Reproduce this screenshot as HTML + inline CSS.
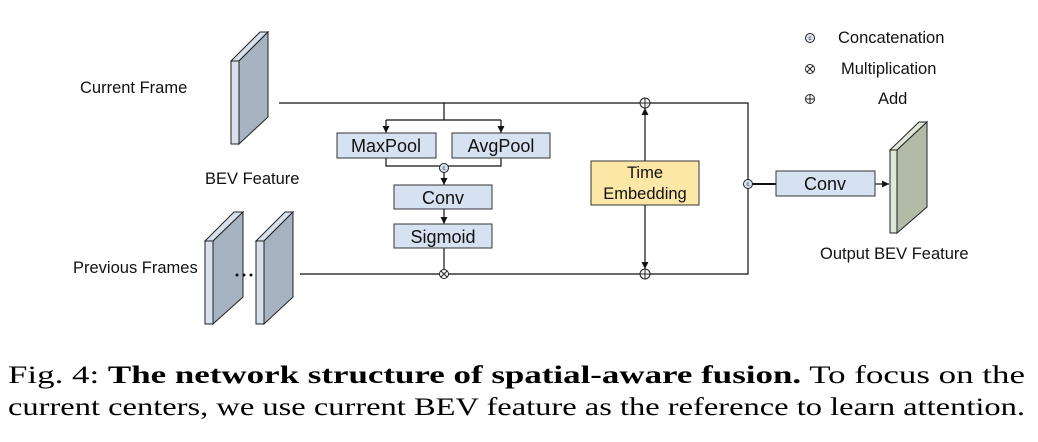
<!DOCTYPE html>
<html><head><meta charset="utf-8"><style>
html,body{margin:0;padding:0;background:#fff;}
svg{display:block;}
.s{font-family:"Liberation Sans",sans-serif;font-size:16.5px;fill:#111;}
.b{font-family:"Liberation Sans",sans-serif;font-size:18px;fill:#111;}
.c{font-family:"Liberation Serif",serif;font-size:25px;fill:#000;}
</style></head><body>
<svg width="1038" height="442" viewBox="0 0 1038 442" xmlns="http://www.w3.org/2000/svg">
<defs>
<marker id="a" viewBox="0 0 6 6" refX="6" refY="3" markerWidth="6" markerHeight="6" orient="auto"><path d="M0,0L6,3L0,6z" fill="#111"/></marker>
</defs>
<g stroke="#222" stroke-width="1">
<polygon points="231,61 260,32 268,32 239,61" fill="#d7e1ee"/>
<polygon points="239,61 268,32 268,117 239,144" fill="#a8b3c2"/>
<rect x="231" y="61" width="8" height="83" fill="#d7e1ee"/>
<polygon points="205,241 234,212 243,212 213,241" fill="#d7e1ee"/>
<polygon points="213,241 243,212 243,297 213,324" fill="#a8b3c2"/>
<rect x="205" y="241" width="8" height="83" fill="#d7e1ee"/>
<polygon points="256,241 285,212 293,212 264,241" fill="#d7e1ee"/>
<polygon points="264,241 293,212 293,297 264,324" fill="#a8b3c2"/>
<rect x="256" y="241" width="8" height="83" fill="#d7e1ee"/>
<polygon points="890,150 919,122 927,122 897,150" fill="#dfe8d6"/>
<polygon points="897,150 927,122 927,207 897,233" fill="#b2bba7"/>
<rect x="890" y="150" width="7" height="83" fill="#dfe8d6"/>
</g>
<g fill="#111"><circle cx="237" cy="275" r="1.5"/><circle cx="244" cy="275" r="1.5"/><circle cx="251" cy="275" r="1.5"/></g>
<g stroke="#111" stroke-width="1.2" fill="none">
<path d="M279,103H748V274H300"/>
<path d="M444,103V120M386,120H501"/>
<path d="M386,120V133" marker-end="url(#a)"/>
<path d="M501,120V133" marker-end="url(#a)"/>
<path d="M386,158V166H501V158"/>
<path d="M444,172V185" marker-end="url(#a)"/>
<path d="M444,209V224" marker-end="url(#a)"/>
<path d="M444,248V270"/>
<path d="M645,161V108" marker-end="url(#a)"/>
<path d="M645,205V269" marker-end="url(#a)"/>
<path d="M752,184H776" stroke-width="2"/>
<path d="M875,184H889" marker-end="url(#a)"/>
</g>
<g stroke="#333" stroke-width="1" fill="#d6e1f1">
<rect x="337" y="133" width="99" height="25"/>
<rect x="452" y="133" width="98" height="25"/>
<rect x="394" y="185" width="98" height="24"/>
<rect x="394" y="224" width="98" height="24"/>
<rect x="776" y="171" width="99" height="25"/>
<rect x="591" y="161" width="108" height="44" fill="#fde7a7"/>
</g>
<g class="b" text-anchor="middle">
<text x="386" y="152">MaxPool</text><text x="501" y="152">AvgPool</text>
<text x="443" y="204">Conv</text><text x="443" y="243">Sigmoid</text>
<text x="825" y="190">Conv</text>
</g>
<g class="s" text-anchor="middle">
<text x="645" y="178">Time</text><text x="645" y="199">Embedding</text>
</g>
<g stroke="#222" stroke-width="1" fill="#fff">
<circle cx="444" cy="168" r="4.5" fill="#dde4ee"/>
<circle cx="748" cy="184" r="4.5" fill="#dde4ee"/>
<circle cx="444" cy="274" r="4.5"/><path d="M441,271l6,6M447,271l-6,6"/>
<circle cx="645" cy="103" r="5"/><path d="M640,103h10M645,98v10"/>
<circle cx="645" cy="274" r="5"/><path d="M640,274h10M645,269v10"/>
<circle cx="810" cy="38" r="4.5" fill="#dde4ee"/>
<circle cx="810" cy="69" r="4.5"/><path d="M807,66l6,6M813,66l-6,6"/>
<circle cx="810" cy="99" r="4.5"/><path d="M805.5,99h9M810,94.5v9"/>
</g>
<g font-family="Liberation Sans,sans-serif" font-size="6" text-anchor="middle" fill="#111">
<text x="444" y="170">c</text><text x="748" y="186">c</text><text x="810" y="40">c</text>
</g>
<g class="s">
<text x="80" y="93">Current Frame</text>
<text x="205" y="184">BEV Feature</text>
<text x="73" y="273">Previous Frames</text>
<text x="820" y="259">Output BEV Feature</text>
<text x="838" y="43">Concatenation</text>
<text x="841" y="74">Multiplication</text>
<text x="878" y="104">Add</text>
</g>
<text class="c" x="8" y="383" textLength="1017" lengthAdjust="spacingAndGlyphs">Fig. 4: <tspan font-weight="bold">The network structure of spatial-aware fusion.</tspan> To focus on the</text>
<text class="c" x="8" y="415" textLength="1017" lengthAdjust="spacingAndGlyphs">current centers, we use current BEV feature as the reference to learn attention.</text>
</svg>
</body></html>
